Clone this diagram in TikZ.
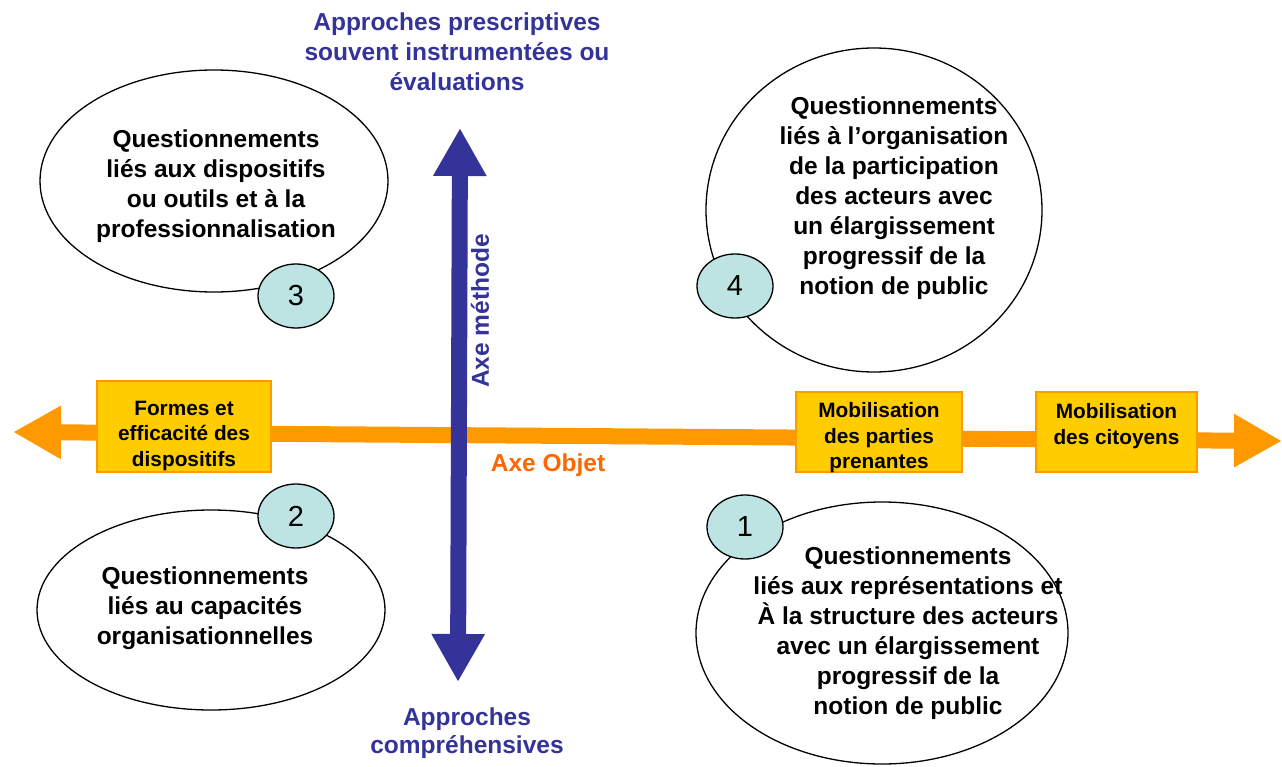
\documentclass[tikz,border=0pt]{standalone}
\usepackage{fontspec}
\setmainfont{Liberation Sans}
\usetikzlibrary{arrows.meta,shapes.geometric}
\definecolor{bleu}{HTML}{333399}
\definecolor{orangeaxe}{HTML}{FF9900}
\definecolor{jaune}{HTML}{FFCC00}
\definecolor{orangetxt}{HTML}{FF6600}
\definecolor{turquoise}{HTML}{BDE3E3}
\tikzset{
  bulle/.style={draw,ellipse,line width=1.3pt,inner sep=0pt},
  pastille/.style={draw,ellipse,fill=turquoise,line width=1.3pt,minimum width=76pt,
    minimum height=64pt,inner sep=0pt,font=\fontsize{29}{30}\selectfont},
  texte/.style={align=center,font=\fontsize{24.5}{30}\selectfont\bfseries},
  boite/.style={draw=orangeaxe,fill=jaune,line width=1.5pt,inner sep=0pt},
  etiquette/.style={align=center,font=\fontsize{20.8}{25.5}\selectfont\bfseries},
  axe/.style={line width=16pt,{Triangle[length=48pt,width=50pt]}-{Triangle[length=48pt,width=50pt]}}
}
\begin{document}
\begin{tikzpicture}[x=1pt,y=-1pt]
  \useasboundingbox (0,0) rectangle (1282,767);
  % Bulles
  \node[bulle,minimum width=348pt,minimum height=222pt] (q3) at (214,181) {};
  \node[bulle,minimum width=336pt,minimum height=324pt] (q4) at (874,210) {};
  \node[bulle,minimum width=348pt,minimum height=200pt] (q2) at (211,610) {};
  \node[bulle,minimum width=372pt,minimum height=262pt] (q1) at (882,633) {};
  \node[texte] (t3) at (216,186) {Questionnements\\liés aux dispositifs\\ou outils et à la\\professionnalisation};
  \node[texte] (t4) at (894,198) {Questionnements\\liés à l’organisation\\de la participation\\des acteurs avec\\un élargissement\\progressif de la\\notion de public};
  \node[texte] (t2) at (205,608) {Questionnements\\liés au capacités\\organisationnelles};
  \node[texte] (t1) at (908,633) {Questionnements\\liés aux représentations et\\À la structure des acteurs\\avec un élargissement\\progressif de la\\notion de public};
  % Pastilles
  \node[pastille] (n3) at (296,296) {3};
  \node[pastille] (n4) at (735,286) {4};
  \node[pastille] (n2) at (296,516) {2};
  \node[pastille] (n1) at (745,527) {1};
  % Axe Objet
  \coordinate (og) at (13,432);
  \coordinate (od) at (1282,441);
  \draw[axe,orangeaxe] (og) -- (od);
  \node[boite,minimum width=174pt,minimum height=91pt] (b1) at (184,426.5) {};
  \node[boite,minimum width=166pt,minimum height=80pt] (b2) at (879,432) {};
  \node[boite,minimum width=161pt,minimum height=80pt] (b3) at (1116.5,432) {};
  \node[etiquette] (e1) at (184,436) {Formes et\\efficacité des\\dispositifs};
  \node[etiquette] (e2) at (879,438) {Mobilisation\\des parties\\prenantes};
  \node[etiquette] (e3) at (1116.5,426) {Mobilisation\\des citoyens};
  \node[texte,text=orangetxt] (lo) at (548,465) {Axe Objet};
  % Axe méthode
  \coordinate (mh) at (460,128);
  \coordinate (mb) at (458,682);
  \draw[axe,bleu] (mb) -- (mh);
  \node[texte,text=bleu,rotate=90] (lm) at (480,311) {Axe méthode};
  \node[texte,text=bleu] (ph) at (457,52) {Approches prescriptives\\souvent instrumentées ou\\évaluations};
  \node[texte,text=bleu,font=\fontsize{24.5}{28}\selectfont\bfseries] (pb) at (467,733) {Approches\\compréhensives};
\end{tikzpicture}
\end{document}
